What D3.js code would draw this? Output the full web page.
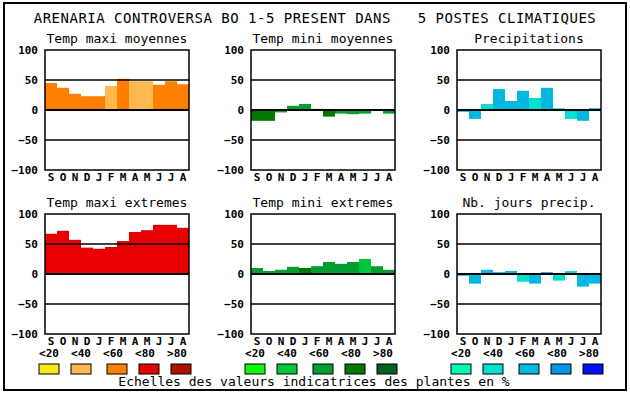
<!DOCTYPE html>
<html>
<head>
<meta charset="utf-8">
<script src="https://cdn.jsdelivr.net/npm/d3@7"></script>
<style>
  body { margin: 0; background: #fff; }
  svg { display: block; font-family: 'DejaVu Sans Mono', monospace; }
</style>
</head>
<body>
<svg id="chart" width="630" height="394"></svg>
<script>
const months = ['S', 'O', 'N', 'D', 'J', 'F', 'M', 'A', 'M', 'J', 'J', 'A']
const yTicks = [100, 50, 0, -50, -100]
const legendLabels = ['<20', '<40', '<60', '<80', '>80']

const orangeScale = ['#f8e81c', '#ffb84f', '#ff8000', '#e80000', '#b01000']
const greenScale = ['#10fa10', '#00c83c', '#009e30', '#007800', '#006020']
const blueScale = ['#00ffb4', '#00e0d0', '#00b8e0', '#0096e8', '#0010f8']

const maxiMoyValues = [45, 37, 27, 23, 23, 40, 52, 48, 48, 42, 48, 43]
const maxiMoyClass = [2, 2, 2, 2, 2, 1, 2, 1, 1, 2, 2, 2]
const miniMoyValues = [-18, -18, -4, 7, 10, 2, -11, -6, -7, -6, 0, -6]
const miniMoyClass = [3, 3, 2, 2, 2, 2, 3, 2, 2, 2, 2, 2]
const precipValues = [-3, -15, 10, 35, 15, 32, 20, 37, 3, -15, -18, 3]
const precipClass = [2, 2, 1, 2, 2, 2, 1, 2, 1, 1, 2, 2]
const maxiExtValues = [67, 72, 57, 44, 42, 45, 55, 70, 73, 82, 82, 77]
const maxiExtClass = [3, 3, 3, 3, 3, 3, 3, 3, 3, 3, 3, 3]
const miniExtValues = [10, 5, 7, 12, 10, 13, 20, 17, 20, 25, 13, 7]
const miniExtClass = [2, 2, 2, 2, 3, 2, 2, 2, 2, 1, 2, 2]
const joursValues = [-3, -16, 7, 3, 5, -13, -16, 3, -11, 5, -21, -16]
const joursClass = [2, 2, 2, 2, 2, 1, 2, 3, 1, 1, 2, 2]

const panels = [
  { title: 'Temp maxi moyennes', values: maxiMoyValues, cls: maxiMoyClass, colors: orangeScale, col: 0, row: 0 },
  { title: 'Temp mini moyennes', values: miniMoyValues, cls: miniMoyClass, colors: greenScale, col: 1, row: 0 },
  { title: 'Precipitations', values: precipValues, cls: precipClass, colors: blueScale, col: 2, row: 0 },
  { title: 'Temp maxi extremes', values: maxiExtValues, cls: maxiExtClass, colors: orangeScale, col: 0, row: 1 },
  { title: 'Temp mini extremes', values: miniExtValues, cls: miniExtClass, colors: greenScale, col: 1, row: 1 },
  { title: 'Nb. jours precip.', values: joursValues, cls: joursClass, colors: blueScale, col: 2, row: 1 }
]

const colX = [45, 251, 457]
const rowY = [50, 214]
const width = 144
const height = 120

const svg = d3.select('#chart')

svg.append('rect')
    .attr('width', 630).attr('height', 394).attr('fill', '#fff')

svg.append('rect')
    .attr('x', 4).attr('y', 3)
    .attr('width', 622).attr('height', 387)
    .attr('fill', 'none').attr('stroke', '#000').attr('stroke-width', 2)

svg.append('text')
    .attr('x', 315).attr('y', 23)
    .attr('text-anchor', 'middle')
    .attr('font-size', 14)
    .attr('letter-spacing', 0.5)
    .attr('xml:space', 'preserve')
    .style('white-space', 'pre')
    .text('ARENARIA CONTROVERSA BO 1-5 PRESENT DANS   5 POSTES CLIMATIQUES')

const x = d3.scaleBand().domain(d3.range(12)).range([0, width])
const y = d3.scaleLinear().domain([-100, 100]).range([height, 0])

panels.forEach(p => {
  const g = svg.append('g')
      .attr('transform', `translate(${colX[p.col]},${rowY[p.row]})`)

  g.append('text')
      .attr('x', width / 2).attr('y', -7)
      .attr('text-anchor', 'middle')
      .attr('font-size', 13)
      .text(p.title)

  g.selectAll('.bar')
      .data(p.values)
    .enter().append('rect')
      .attr('class', 'bar')
      .attr('x', (d, i) => x(i))
      .attr('width', x.bandwidth())
      .attr('y', d => y(Math.max(0, d)))
      .attr('height', d => Math.abs(y(d) - y(0)))
      .attr('fill', (d, i) => p.colors[p.cls[i]])

  g.selectAll('.grid')
      .data([50, 0, -50])
    .enter().append('line')
      .attr('x1', 0).attr('x2', width)
      .attr('y1', d => y(d)).attr('y2', d => y(d))
      .attr('stroke', '#000')
      .attr('stroke-width', d => d === 0 ? 2 : 1.5)

  g.append('rect')
      .attr('width', width).attr('height', height)
      .attr('fill', 'none').attr('stroke', '#000').attr('stroke-width', 1.5)

  const yAxis = g.append('g')
      .call(d3.axisLeft(y).tickValues(yTicks).tickSize(0).tickPadding(7))
  yAxis.select('.domain').remove()
  yAxis.selectAll('text')
      .attr('font-family', 'DejaVu Sans Mono')
      .attr('font-size', 11)
      .attr('font-weight', 'bold')
      .attr('fill', '#000')

  const xAxis = g.append('g')
      .attr('transform', `translate(0,${height})`)
      .call(d3.axisBottom(x).tickFormat(i => months[i]).tickSize(0).tickPadding(3))
  xAxis.select('.domain').remove()
  xAxis.selectAll('text')
      .attr('font-family', 'DejaVu Sans Mono')
      .attr('font-size', 11)
      .attr('font-weight', 'bold')
      .attr('fill', '#000')

  if (p.row === 1) {
    g.selectAll('.lab')
        .data(legendLabels)
      .enter().append('text')
        .attr('x', (d, i) => 4 + i * 32)
        .attr('y', height + 23)
        .attr('text-anchor', 'middle')
        .attr('font-size', 11)
        .attr('font-weight', 'bold')
        .text(d => d)

    const boxOffsets = [0, 32, 68, 100, 132]
    g.selectAll('.box')
        .data(p.colors)
      .enter().append('rect')
        .attr('x', (d, i) => -6 + boxOffsets[i])
        .attr('y', height + 30)
        .attr('width', 20).attr('height', 10)
        .attr('fill', d => d)
        .attr('stroke', '#000').attr('stroke-width', 1)
  }
})

svg.append('text')
    .attr('x', 314).attr('y', 386)
    .attr('text-anchor', 'middle')
    .attr('font-size', 13)
    .text('Echelles des valeurs indicatrices des plantes en %')
</script>
</body>
</html>
